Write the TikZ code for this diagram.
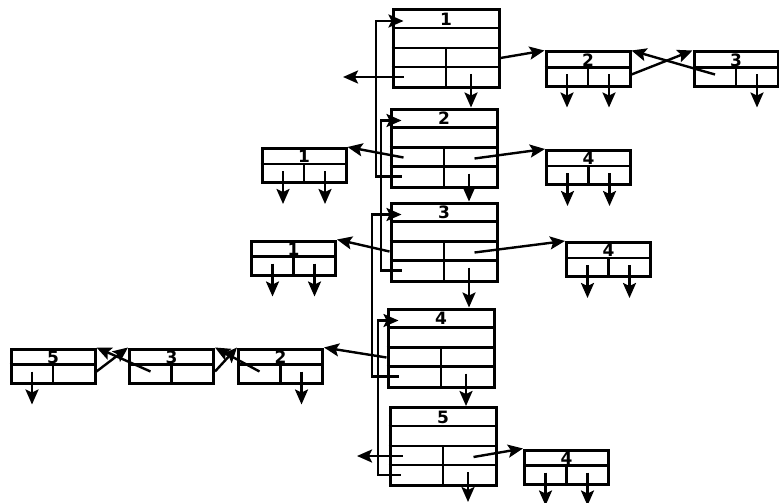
\documentclass[tikz,border=0pt]{standalone}
\usepackage{fontspec}
\setsansfont{DejaVu Sans}
\usetikzlibrary{arrows.meta}
\usetikzlibrary{calc}
\usetikzlibrary{positioning}

\begin{document}
\begin{tikzpicture}[
  x=1pt, y=-1pt,
  > = {Stealth[length=15pt,width=13pt,inset=3pt]},
  rec/.style = {draw, line width=3pt, minimum width=106pt, minimum height=78pt, inner sep=0pt},
  cell/.style = {draw, line width=3pt, minimum width=84pt, minimum height=34pt, inner sep=0pt},
  num/.style = {font=\sffamily\bfseries\fontsize{17}{17}\selectfont, inner sep=0pt},
  ptr/.style = {->, line width=2.4pt},
  ]
  \useasboundingbox (0,0) rectangle (779,503);

  % vertex records: header, empty row, two rows of two fields
  \foreach \n/\x/\y in {1/446/48.5, 2/444/148, 3/444/242, 4/441/348, 5/443/446.5}{
    \node[rec] (v\n) at (\x,\y) {};
    \node[num] (v\n-t) at ($(v\n.north)+(0,11)$) {\n};
    \draw[line width=2.6pt] ($(v\n.north west)+(0,20)$) -- ($(v\n.north east)+(0,20)$)
      ($(v\n.north west)+(0,40)$) -- ($(v\n.north east)+(0,40)$)
      ($(v\n.north west)+(0,59)$) -- ($(v\n.north east)+(0,59)$)
      ($(v\n.north)+(0,40)$) -- (v\n.south);
    \coordinate (v\n-h) at ($(v\n.north west)+(12,13)$);
    \coordinate (v\n-cl) at ($(v\n.north west)+(14,50)$);
    \coordinate (v\n-cr) at ($(v\n.north east)+(-24,51)$);
    \coordinate (v\n-dl) at ($(v\n.north west)+(12,69)$);
    \coordinate (v\n-dr) at ($(v\n.north)+(25,66)$);
  }

  % edge cells
  \foreach \n/\t/\x/\y in {a2/2/588/69, a3/3/736/69, b1/1/304/165.5, b4/4/588.5/167.5,
      c1/1/293.5/258, c4/4/608.5/259.5, d4/4/566.5/467,
      e5/5/53/366, e3/3/171.5/366, e2/2/280.5/366}{
    \node[cell] (\n) at (\x,\y) {};
    \node[num] (\n-t) at ($(\n.north)+(0,9.5)$) {\t};
    \draw[line width=2.6pt] ($(\n.north west)+(0,17)$) -- ($(\n.north east)+(0,17)$)
      ($(\n.north)+(0,17)$) -- (\n.south);
    \coordinate (\n-l) at ($(\n.north)+(-21,24)$);
    \coordinate (\n-r) at ($(\n.north)+(21,24)$);
    \coordinate (\n-lo) at ($(\n.south)+(-21,20)$);
    \coordinate (\n-ro) at ($(\n.south)+(21,20)$);
  }

  % null pointers below the cells
  \foreach \n in {a2,b1,b4,c1,c4,d4}{
    \draw[ptr] (\n-l) -- (\n-lo);
    \draw[ptr] (\n-r) -- (\n-ro);
  }
  \draw[ptr] (a3-r) -- (a3-ro);
  \draw[ptr] (e5-l) -- (e5-lo);
  \draw[ptr] (e2-r) -- (e2-ro);

  % cells linked to each other
  \draw[ptr] (a2.east |- a2-r) -- (a3.north west);
  \draw[ptr] (a3-l) -- (a2.north east);
  \draw[ptr] (e5.east |- e5-r) -- (e3.north west);
  \draw[ptr] (e3-l) -- (e5.north east);
  \draw[ptr] (e3.east |- e3-r) -- (e2.north west);
  \draw[ptr] (e2-l) -- (e3.north east);

  % records down the column
  \foreach \a/\b in {1/2,2/3,3/4,4/5}
    \draw[ptr] (v\a-dr) -- (v\a-dr |- v\b.north);
  \coordinate (nil3) at (0,502);
  \draw[ptr] (v5-dr) -- (v5-dr |- nil3);

  % records to their cells
  \draw[ptr] (v1.east |- v1-cl) -- (a2.north west);
  \draw[ptr] (v2-cr) -- (b4.north west);
  \draw[ptr] (v3-cr) -- (c4.north west);
  \draw[ptr] (v5-cr) -- (d4.north west);
  \draw[ptr] (v2-cl) -- (b1.north east);
  \draw[ptr] (v3.west |- v3-cl) -- (c1.north east);
  \draw[ptr] (v4.west |- v4-cl) -- (e2.north east);

  \coordinate (nil1) at (343,0);
  \coordinate (nil2) at (357,0);
  \draw[ptr] (v1-dl) -- (v1-dl -| nil1);
  \draw[ptr] (v5-cl) -- (v5-cl -| nil2);

  % back links to the record above
  \coordinate (xa) at (376,0);
  \coordinate (xb) at (381,0);
  \coordinate (xc) at (372,0);
  \coordinate (xd) at (378,0);
  \draw[ptr] (v2-dl) -- (v2-dl -| xa) |- (v1-h);
  \draw[ptr] (v3-dl) -- (v3-dl -| xb) |- (v2-h);
  \draw[ptr] (v4-dl) -- (v4-dl -| xc) |- (v3-h);
  \draw[ptr] (v5-dl) -- (v5-dl -| xd) |- (v4-h);
\end{tikzpicture}
\end{document}
